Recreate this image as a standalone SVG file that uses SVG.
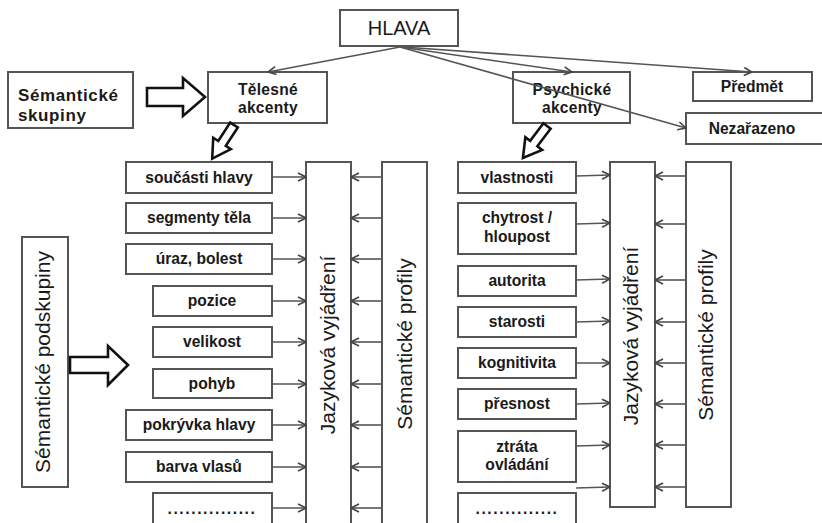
<svg xmlns="http://www.w3.org/2000/svg" width="822" height="523" viewBox="0 0 822 523">
<defs>
<marker id="ah" viewBox="0 0 10 10" refX="9" refY="5" markerWidth="10" markerHeight="10" markerUnits="userSpaceOnUse" orient="auto">
<path d="M1,1 L9,5 L1,9" fill="none" stroke="#444" stroke-width="1.6"/>
</marker>
<path id="hollow" d="M0,-4.5 L22,-4.5 L22,-10.5 L40,0 L22,10.5 L22,4.5 L0,4.5 Z"/>
</defs>
<style>
.box{fill:#fff;stroke:#555;stroke-width:2}
.t{font-family:"Liberation Sans",Arial,sans-serif;font-weight:bold;font-size:15.6px;fill:#1a1a1a;text-anchor:middle}
.big{font-family:"Liberation Sans",Arial,sans-serif;font-size:21px;fill:#1a1a1a;text-anchor:middle}
.con{fill:none;stroke:#555;stroke-width:1.6;marker-end:url(#ah)}
.ha{fill:#fff;stroke:#111;stroke-width:2.6;stroke-linejoin:miter}
</style>
<rect width="822" height="523" fill="#fff"/>

<g id="hlava"><rect class="box" x="340" y="10" width="118" height="36"/><text class="big" x="399" y="35" style="font-size:20px">HLAVA</text></g>
<g id="semanticke-skupiny"><rect class="box" x="8" y="72" width="125" height="56"/><text class="t" x="18" y="101" style="text-anchor:start;font-size:17px;letter-spacing:0.6px">Sémantické</text><text class="t" x="18" y="121" style="text-anchor:start;font-size:17px;letter-spacing:0.6px">skupiny</text></g>
<g id="telesne"><rect class="box" x="208" y="72" width="119" height="51"/><text class="t" x="268" y="95" style="letter-spacing:0.3px">Tělesné</text><text class="t" x="268" y="113" style="letter-spacing:0.3px">akcenty</text></g>
<g id="psychicke"><rect class="box" x="513" y="72" width="117" height="51"/><text class="t" x="572" y="95" style="letter-spacing:0.3px">Psychické</text><text class="t" x="572" y="113" style="letter-spacing:0.3px">akcenty</text></g>
<g id="predmet"><rect class="box" x="693" y="72" width="119" height="29"/><text class="t" x="752" y="92">Předmět</text></g>
<g id="nezarazeno"><rect class="box" x="686" y="113" width="140" height="31"/><text class="t" x="752" y="134">Nezařazeno</text></g>

<g id="podskupiny"><rect class="box" x="22" y="237" width="46" height="250"/><text class="big" transform="translate(50,362) rotate(-90)">Sémantické podskupiny</text></g>

<g id="l-items">
<g id="l1"><rect class="box" x="126" y="162" width="146" height="31"/><text class="t" x="199" y="183">součásti hlavy</text></g>
<g id="l2"><rect class="box" x="126" y="203" width="146" height="30"/><text class="t" x="199" y="223">segmenty těla</text></g>
<g id="l3"><rect class="box" x="126" y="244" width="146" height="30"/><text class="t" x="199" y="264">úraz, bolest</text></g>
<g id="l4"><rect class="box" x="153" y="286" width="119" height="30"/><text class="t" x="212" y="306">pozice</text></g>
<g id="l5"><rect class="box" x="153" y="327" width="119" height="30"/><text class="t" x="212" y="347">velikost</text></g>
<g id="l6"><rect class="box" x="153" y="369" width="119" height="29"/><text class="t" x="212" y="389">pohyb</text></g>
<g id="l7"><rect class="box" x="126" y="410" width="146" height="30"/><text class="t" x="199" y="430">pokrývka hlavy</text></g>
<g id="l8"><rect class="box" x="126" y="452" width="146" height="30"/><text class="t" x="199" y="472">barva vlasů</text></g>
<g id="l9"><rect class="box" x="153" y="493" width="119" height="40"/><text class="t" x="212" y="514" style="letter-spacing:1.6px">...............</text></g>
</g>
<g id="l-jazykova"><rect class="box" x="306" y="162" width="45" height="370"/><text class="big" transform="translate(335,345) rotate(-90)">Jazyková vyjádření</text></g>
<g id="l-profily"><rect class="box" x="382" y="162" width="45" height="370"/><text class="big" transform="translate(412,344) rotate(-90)">Sémantické profily</text></g>

<g id="r-items">
<g id="r1"><rect class="box" x="458" y="162" width="118" height="31"/><text class="t" x="517" y="183">vlastnosti</text></g>
<g id="r2"><rect class="box" x="458" y="203" width="118" height="51"/><text class="t" x="517" y="223">chytrost /</text><text class="t" x="517" y="242">hloupost</text></g>
<g id="r3"><rect class="box" x="458" y="266" width="118" height="30"/><text class="t" x="517" y="286">autorita</text></g>
<g id="r4"><rect class="box" x="458" y="307" width="118" height="30"/><text class="t" x="517" y="327">starosti</text></g>
<g id="r5"><rect class="box" x="458" y="348" width="118" height="30"/><text class="t" x="517" y="368">kognitivita</text></g>
<g id="r6"><rect class="box" x="458" y="389" width="118" height="30"/><text class="t" x="517" y="409">přesnost</text></g>
<g id="r7"><rect class="box" x="458" y="431" width="118" height="51"/><text class="t" x="517" y="452">ztráta</text><text class="t" x="517" y="470">ovládání</text></g>
<g id="r8"><rect class="box" x="458" y="493" width="118" height="40"/><text class="t" x="517" y="514" style="letter-spacing:1.6px">..............</text></g>
</g>
<g id="r-jazykova"><rect class="box" x="610" y="162" width="45" height="345"/><text class="big" transform="translate(638,336) rotate(-90)">Jazyková vyjádření</text></g>
<g id="r-profily"><rect class="box" x="686" y="162" width="45" height="345"/><text class="big" transform="translate(713,335) rotate(-90)">Sémantické profily</text></g>

<g id="connectors">
<path class="con" d="M400,47 L268,72"/>
<path class="con" d="M400,47 L572,72"/>
<path class="con" d="M403,47 L752,72"/>
<path class="con" d="M400,47 L686,128"/>

<path class="con" d="M272,177 H306"/><path class="con" d="M272,218 H306"/><path class="con" d="M272,259 H306"/>
<path class="con" d="M272,301 H306"/><path class="con" d="M272,342 H306"/><path class="con" d="M272,384 H306"/>
<path class="con" d="M272,425 H306"/><path class="con" d="M272,467 H306"/><path class="con" d="M272,508 H306"/>

<path class="con" d="M382,177 H351"/><path class="con" d="M382,218 H351"/><path class="con" d="M382,259 H351"/>
<path class="con" d="M382,301 H351"/><path class="con" d="M382,342 H351"/><path class="con" d="M382,384 H351"/>
<path class="con" d="M382,425 H351"/><path class="con" d="M382,467 H351"/><path class="con" d="M382,508 H351"/>

<path class="con" d="M576,176 L610,175"/><path class="con" d="M576,224 L610,223"/><path class="con" d="M576,280 L610,279"/>
<path class="con" d="M576,322 L610,321"/><path class="con" d="M576,363 L610,363"/><path class="con" d="M576,404 L610,403"/>
<path class="con" d="M576,446 L610,445"/><path class="con" d="M576,488 L610,487"/>

<path class="con" d="M686,176 H655"/><path class="con" d="M686,224 H655"/><path class="con" d="M686,280 H655"/>
<path class="con" d="M686,322 H655"/><path class="con" d="M686,363 H655"/><path class="con" d="M686,404 H655"/>
<path class="con" d="M686,445 H655"/><path class="con" d="M686,487 H655"/>

<polygon class="ha" points="147,88 183,88 183,78 205,97 183,116 183,106 147,106"/>
<polygon class="ha" points="70,357 108,357 108,346 128,365 108,385 108,373 70,373"/>
<use href="#hollow" class="ha" transform="translate(234,125) rotate(123)"/>
<use href="#hollow" class="ha" transform="translate(547,126) rotate(127)"/>
</g>
</svg>
